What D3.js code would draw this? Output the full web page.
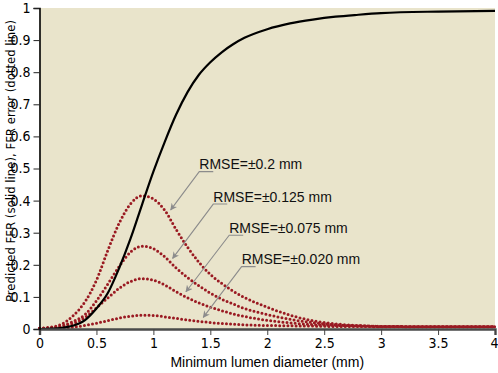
<!DOCTYPE html>
<html>
<head>
<meta charset="utf-8">
<script src="https://cdn.jsdelivr.net/npm/d3@7"></script>
<style>
  html, body { margin: 0; padding: 0; background: #ffffff; }
  svg { display: block; }
</style>
</head>
<body>
<svg id="chart" width="498" height="373"></svg>
<script>
// ---- data ----
const diameters = [0,0.1,0.2,0.3,0.4,0.5,0.6,0.7,0.8,0.9,1.0,1.1,1.2,1.3,1.4,1.5,1.6,1.7,1.8,2.0,2.2,2.4,2.6,2.8,3.0,3.5,4.0];
const predictedFFR = [0,0.001,0.004,0.011,0.028,0.064,0.112,0.19,0.282,0.387,0.49,0.583,0.668,0.738,0.792,0.831,0.862,0.887,0.907,0.934,0.952,0.964,0.973,0.979,0.984,0.989,0.991];
const errRMSE200 = [0.002,0.006,0.016,0.043,0.085,0.152,0.245,0.33,0.39,0.415,0.405,0.37,0.31,0.255,0.208,0.17,0.142,0.118,0.098,0.068,0.043,0.026,0.016,0.011,0.008,0.007,0.007];
const errRMSE125 = [0.001,0.004,0.01,0.024,0.045,0.088,0.14,0.195,0.24,0.258,0.25,0.225,0.19,0.16,0.135,0.112,0.093,0.078,0.064,0.045,0.03,0.02,0.013,0.01,0.008,0.007,0.007];
const errRMSE075 = [0.001,0.003,0.008,0.018,0.036,0.066,0.097,0.127,0.148,0.157,0.152,0.137,0.116,0.097,0.081,0.068,0.057,0.047,0.039,0.027,0.019,0.014,0.011,0.009,0.008,0.007,0.007];
const errRMSE020 = [0.002,0.002,0.003,0.006,0.011,0.018,0.026,0.034,0.04,0.043,0.042,0.038,0.033,0.028,0.024,0.02,0.017,0.015,0.013,0.011,0.01,0.009,0.008,0.008,0.007,0.007,0.007];
const xTicks = [0,0.5,1,1.5,2,2.5,3,3.5,4];
const yTicks = [0,0.1,0.2,0.3,0.4,0.5,0.6,0.7,0.8,0.9,1];
const annotationLabels = ["RMSE=±0.2 mm","RMSE=±0.125 mm","RMSE=±0.075 mm","RMSE=±0.020 mm"];
const labelX = [1.403,1.526,1.666,1.775];
const labelY = [0.498,0.397,0.300,0.202];
const arrowX = [1.152,1.169,1.286,1.438];
const arrowY = [0.371,0.220,0.116,0.036];
const xTitle = "Minimum lumen diameter (mm)";
const yTitle = "Predicted FFR (solid line), FFR error (dotted line)";

// ---- drawing ----
const svg = d3.select("#chart");
const x = d3.scaleLinear().domain([0,4]).range([39.5,495]);
const y = d3.scaleLinear().domain([0,1]).range([329,8]);

svg.append("rect").attr("width",498).attr("height",373).attr("fill","#ffffff");
svg.append("rect")
  .attr("x", x(0)).attr("y", y(1))
  .attr("width", x(4)-x(0)).attr("height", y(0)-y(1))
  .attr("fill", "#e9e4cb");

const line = d3.line().x(d => x(d[0])).y(d => y(d[1])).curve(d3.curveMonotoneX);

const dotted = [errRMSE200, errRMSE125, errRMSE075, errRMSE020];
dotted.forEach(vals => {
  svg.append("path")
    .datum(diameters.map((d,i) => [d, vals[i]]))
    .attr("d", line)
    .attr("fill","none")
    .attr("stroke","#9a1a22")
    .attr("stroke-width",3)
    .attr("stroke-linecap","round")
    .attr("stroke-dasharray","0 4.1");
});

svg.append("path")
  .datum(diameters.map((d,i) => [d, predictedFFR[i]]))
  .attr("d", line)
  .attr("fill","none")
  .attr("stroke","#000")
  .attr("stroke-width",2.2);

// arrow marker
svg.append("defs").append("marker")
  .attr("id","arr").attr("viewBox","0 0 10 10")
  .attr("refX",9).attr("refY",5)
  .attr("markerWidth",7).attr("markerHeight",7)
  .attr("markerUnits","userSpaceOnUse")
  .attr("orient","auto")
  .append("path").attr("d","M0,0 L10,5 L0,10 L3,5 Z").attr("fill","#8c8c8c");

annotationLabels.forEach((t,i) => {
  const tx = x(labelX[i]), ty = y(labelY[i]);
  svg.append("path")
    .attr("d", `M${tx+14},${ty+2.5} L${tx},${ty+2.5} L${x(arrowX[i])},${y(arrowY[i])}`)
    .attr("fill","none").attr("stroke","#8c8c8c").attr("stroke-width",1.1)
    .attr("marker-end","url(#arr)");
  svg.append("text")
    .attr("x", tx).attr("y", ty)
    .attr("font-family","'Liberation Sans', Arial, sans-serif")
    .attr("font-size",14).attr("fill","#111")
    .text(t);
});

// axes
const tickFont = "'Liberation Sans Narrow', 'Arial Narrow', 'DejaVu Sans Condensed', sans-serif";
const xAxis = svg.append("g").attr("transform",`translate(0,${y(0)})`)
  .call(d3.axisBottom(x).tickValues(xTicks).tickFormat(d3.format("")).tickSize(6).tickPadding(3));
xAxis.select(".domain").attr("stroke","#4a4a4a").attr("stroke-width",2.4);
xAxis.selectAll(".tick line").attr("stroke","#444");
xAxis.selectAll("text").attr("font-family",tickFont).attr("font-size",14).attr("fill","#000");
xAxis.selectAll(".tick").filter(d => d === 4).select("text").attr("text-anchor","end").attr("dx","3");

const yAxis = svg.append("g").attr("transform",`translate(${x(0)},0)`)
  .call(d3.axisLeft(y).tickValues(yTicks).tickFormat(d3.format("")).tickSize(6).tickPadding(3));
yAxis.select(".domain").attr("stroke","#000").attr("stroke-width",1.6);
yAxis.selectAll(".tick line").attr("stroke","#222");
yAxis.selectAll("text").attr("font-family",tickFont).attr("font-size",14).attr("fill","#000");

svg.append("text")
  .attr("x", (x(0)+x(4))/2).attr("y", 367)
  .attr("text-anchor","middle")
  .attr("font-family","'Liberation Sans', Arial, sans-serif")
  .attr("font-size",14).attr("fill","#000")
  .text(xTitle);

svg.append("text")
  .attr("transform","translate(14.5,161) rotate(-90)")
  .attr("text-anchor","middle")
  .attr("font-family",tickFont)
  .attr("font-size",13).attr("fill","#000")
  .attr("textLength",282).attr("lengthAdjust","spacingAndGlyphs")
  .text(yTitle);
</script>
</body>
</html>
